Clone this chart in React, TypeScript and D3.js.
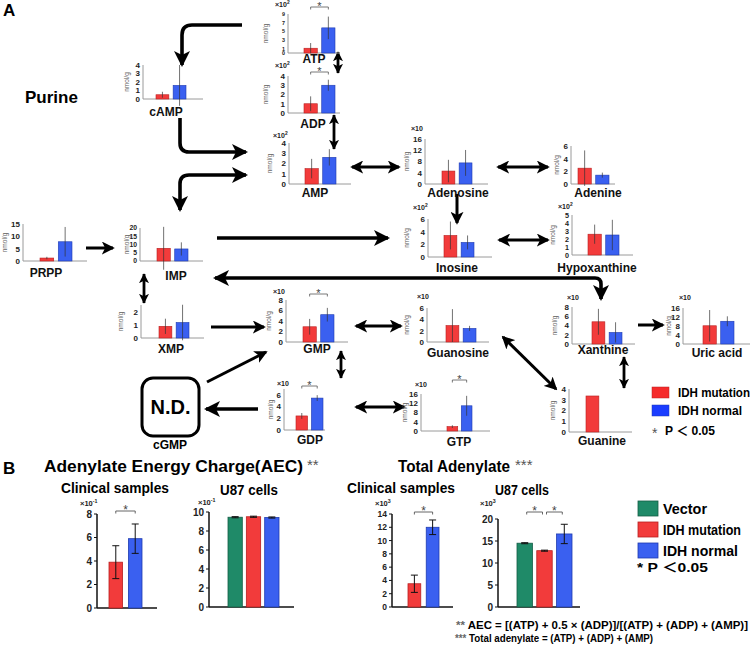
import React from "react";
import * as d3 from "d3";

const FONT = "'Liberation Sans', Arial, Helvetica, 'Noto Sans CJK JP', sans-serif";
const RED = "#f23b3b";
const RED_D = "#b82020";
const BLUE = "#3a60f0";
const BLUE_D = "#1f3bb0";
const GREEN = "#1f8a68";
const GREEN_D = "#145c45";

// ---------------- Panel A data ----------------
const groupsA = ["IDH mutation", "IDH normal"];
const metabolites = ["ATP", "ADP", "cAMP", "AMP", "Adenosine", "Adenine", "PRPP", "IMP", "Inosine", "Hypoxanthine", "XMP", "GMP", "Guanosine", "Xanthine", "Uric acid", "GDP", "GTP", "Guanine"];
const mutationMean = [1.1, 1.0, 0.5, 1.5, 4.6, 2.5, 1.2, 7.7, 3.4, 2.6, 0.92, 2.9, 2.9, 4.8, 8.1, 2.4, 1.9, 3.35];
const mutationErr = [1.2, 0.8, 0.35, 0.95, 4.0, 2.8, 0.5, 13, 2.2, 1.2, 0.6, 1.5, 2.9, 2.8, 7.0, 0.5, 0.6, 0];
const normalMean: (number | null)[] = [5.8, 3.0, 1.6, 2.6, 7.5, 1.4, 7.8, 7.3, 2.3, 2.5, 1.22, 5.2, 2.4, 2.5, 10.1, 5.45, 10.9, null];
const normalErr: (number | null)[] = [2.6, 0.6, 2.4, 0.8, 4.6, 0.4, 6.0, 4.0, 1.1, 1.9, 1.4, 1.3, 0.45, 2.2, 2.2, 0.5, 4.3, null];
const axisMax = [9, 4, 4, 4, 16, 6, 15, 20, 6, 5, 2.6, 8, 6, 8, 16, 7, 16, 4];
const tickValues = [
  [0, 1, 3, 5, 7, 9], [0, 1, 2, 3, 4], [0, 1, 2, 3, 4], [0, 1, 2, 3, 4], [0, 4, 8, 12, 16], [0, 2, 4, 6],
  [0, 5, 10, 15], [0, 5, 10, 15, 20], [0, 2, 4, 6], [0, 1, 2, 3, 4, 5], [0, 1, 2], [0, 2, 4, 6, 8],
  [0, 2, 4, 6], [0, 2, 4, 6, 8], [0, 4, 8, 12, 16], [0, 2, 4, 6], [0, 4, 8, 12, 16], [0, 1, 2, 3, 4],
];
// exponent of the ×10 multiplier ("" = ×10, null = none)
const scaleExp: (string | null)[] = ["2", "2", null, "2", "", null, null, null, "2", "2", null, "", "", "", "", "", "", null];
const significant = [true, true, false, false, false, false, false, false, false, false, false, true, false, false, false, true, true, false];

// layout of each mini chart (positions only)
type LA = { ax: number; by: number; top: number; xEnd: number; b0: number; b1: number; mx: number; my: number; nx: number; cx: number; cy: number; sy?: number; tf?: number };
const layoutA: LA[] = [
  { ax: 288, by: 53, top: 14, xEnd: 340, b0: 304, b1: 335, mx: 275, my: 7, nx: 268, cx: 314, cy: 63, sy: 7, tf: 5.4 },
  { ax: 288, by: 113, top: 76, xEnd: 340, b0: 304, b1: 335, mx: 275, my: 68, nx: 268, cx: 313, cy: 128, sy: 72 },
  { ax: 143, by: 99, top: 65, xEnd: 203, b0: 156, b1: 186, mx: 0, my: 0, nx: 129, cx: 166, cy: 116 },
  { ax: 289, by: 184, top: 143, xEnd: 351, b0: 305, b1: 336, mx: 273, my: 138, nx: 272, cx: 315, cy: 197 },
  { ax: 425, by: 184, top: 139, xEnd: 488, b0: 442, b1: 472, mx: 411, my: 131, nx: 409, cx: 458, cy: 197 },
  { ax: 571, by: 184, top: 146, xEnd: 615, b0: 578, b1: 609, mx: 0, my: 0, nx: 559, cx: 598, cy: 197 },
  { ax: 23, by: 261, top: 224, xEnd: 87, b0: 40, b1: 72, mx: 0, my: 0, nx: 7, cx: 46, cy: 277 },
  { ax: 140, by: 261, top: 228, xEnd: 203, b0: 157, b1: 188, mx: 0, my: 0, nx: 129, cx: 176, cy: 280, tf: 6.8 },
  { ax: 428, by: 257, top: 219, xEnd: 492, b0: 444, b1: 474, mx: 413, my: 210, nx: 409, cx: 457, cy: 272 },
  { ax: 572, by: 255, top: 215, xEnd: 633, b0: 588, b1: 619, mx: 558, my: 209, nx: 555, cx: 597, cy: 272, tf: 7.2 },
  { ax: 141, by: 338, top: 305, xEnd: 204, b0: 159, b1: 189, mx: 0, my: 0, nx: 123, cx: 171, cy: 353 },
  { ax: 286, by: 342, top: 300, xEnd: 348, b0: 303, b1: 334, mx: 273, my: 294, nx: 271, cx: 317, cy: 353, sy: 294 },
  { ax: 427, by: 342, top: 308, xEnd: 489, b0: 446, b1: 476, mx: 417, my: 299, nx: 409, cx: 458, cy: 357 },
  { ax: 572, by: 344, top: 307, xEnd: 635, b0: 592, b1: 622, mx: 567, my: 300, nx: 557, cx: 603, cy: 354 },
  { ax: 683, by: 344, top: 308, xEnd: 750, b0: 703, b1: 734, mx: 679, my: 300, nx: 671, cx: 717, cy: 357 },
  { ax: 284, by: 430, top: 389, xEnd: 325, b0: 296, b1: 323, mx: 277, my: 386, nx: 273, cx: 310, cy: 444, sy: 386 },
  { ax: 421, by: 431, top: 394, xEnd: 490, b0: 447, b1: 472, mx: 415, my: 387, nx: 407, cx: 459, cy: 446, sy: 380 },
  { ax: 569, by: 432, top: 389, xEnd: 632, b0: 586, b1: 616, mx: 0, my: 0, nx: 555, cx: 602, cy: 445 },
];

// ---------------- Panel B data ----------------
const clinicalGroups = ["IDH mutation", "IDH normal"];
const u87Groups = ["Vector", "IDH mutation", "IDH normal"];
const aecClinicalMean = [3.9, 5.9];
const aecClinicalErr = [1.4, 1.25];
const aecU87Mean = [9.45, 9.5, 9.42];
const aecU87Err = [0.06, 0.06, 0.06];
const taClinicalMean = [3.5, 12.0];
const taClinicalErr = [1.3, 1.1];
const taU87Mean = [14.5, 12.8, 16.6];
const taU87Err = [0.12, 0.12, 2.2];
const aecTicks = [0, 2, 4, 6, 8];
const aecU87Ticks = [0, 2, 4, 6, 8, 10];
const taClinicalTicks = [0, 2, 4, 6, 8, 10, 12, 14];
const taU87Ticks = [0, 5, 10, 15, 20];
const legendBWidths = [44, 78, 75];

const groupColor: Record<string, [string, string]> = {
  Vector: [GREEN, GREEN_D],
  "IDH mutation": [RED, RED_D],
  "IDH normal": [BLUE, BLUE_D],
};

function Mult({ x, y, exp, size = 7 }: { x: number; y: number; exp: string; size?: number }) {
  return (
    <text x={x} y={y} fontSize={size} fontWeight="bold" fill="#222">
      ×10
      {exp !== "" && (
        <tspan fontSize={size * 0.7} dy={-size * 0.45}>
          {exp}
        </tspan>
      )}
    </text>
  );
}

function Star({ x, y, size = 12 }: { x: number; y: number; size?: number }) {
  return (
    <text x={x} y={y} fontSize={size} textAnchor="middle" fill="#444">
      *
    </text>
  );
}

function MiniA({ i }: { i: number }) {
  const L = layoutA[i];
  const y = d3.scaleLinear().domain([0, axisMax[i]]).range([L.by, L.top]);
  const x = d3.scaleBand<string>().domain(groupsA).range([L.b0, L.b1]).paddingInner(0.25);
  const vals = [mutationMean[i], normalMean[i]];
  const errs = [mutationErr[i], normalErr[i]];
  const exp = scaleExp[i];
  const tf = L.tf ?? 8;
  const c0 = (x(groupsA[0]) as number) + x.bandwidth() / 2;
  const c1 = (x(groupsA[1]) as number) + x.bandwidth() / 2;
  return (
    <g>
      <line x1={L.ax} x2={L.ax} y1={L.by} y2={L.top} stroke="#9a9a9a" strokeWidth={1} />
      <line x1={L.ax} x2={L.xEnd} y1={L.by} y2={L.by} stroke="#9a9a9a" strokeWidth={1} />
      {tickValues[i].map((t) => (
        <text key={t} x={L.ax - 3} y={y(t) + tf * 0.36} fontSize={tf} fontWeight="bold" textAnchor="end" fill="#222">
          {t}
        </text>
      ))}
      <text
        transform={`translate(${L.nx},${(L.by + L.top) / 2}) rotate(-90)`}
        fontSize={6.5}
        textAnchor="middle"
        fill="#666"
      >
        nmol/g
      </text>
      {exp !== null && <Mult x={L.mx} y={L.my} exp={exp} />}
      {groupsA.map((g, k) => {
        const v = vals[k];
        if (v === null || v === undefined) return null;
        const e = errs[k] || 0;
        const [fill, stroke] = groupColor[g];
        const bx = x(g) as number;
        const cx = bx + x.bandwidth() / 2;
        return (
          <g key={g}>
            <rect x={bx} y={y(v)} width={x.bandwidth()} height={L.by - y(v)} fill={fill} stroke={stroke} strokeWidth={0.6} />
            {e > 0 && <line x1={cx} x2={cx} y1={y(v + e)} y2={y(v - e)} stroke="#333" strokeWidth={0.7} />}
          </g>
        );
      })}
      {significant[i] && L.sy !== undefined && (
        <g>
          <path d={`M${c0},${L.sy + 2.5} V${L.sy} H${c1} V${L.sy + 2.5}`} fill="none" stroke="#555" strokeWidth={0.8} />
          <Star x={(c0 + c1) / 2} y={L.sy + 2.5} size={11} />
        </g>
      )}
      <text x={L.cx} y={L.cy} fontSize={12} fontWeight="bold" textAnchor="middle" fill="#111">
        {metabolites[i]}
      </text>
    </g>
  );
}

type LB = { ax: number; by: number; top: number; xEnd: number; b0: number; b1: number; max: number; mx: number; my: number; fs: number; sy: number };

function MiniB({
  L, groups, mean, err, ticks, exp, sig,
}: { L: LB; groups: string[]; mean: number[]; err: number[]; ticks: number[]; exp: string; sig: [number, number][] }) {
  const y = d3.scaleLinear().domain([0, L.max]).range([L.by, L.top]);
  const x = d3.scaleBand<string>().domain(groups).range([L.b0, L.b1]).paddingInner(groups.length === 3 ? 0.22 : 0.3);
  const cen = (g: string) => (x(g) as number) + x.bandwidth() / 2;
  return (
    <g>
      <line x1={L.ax} x2={L.ax} y1={L.by} y2={L.top} stroke="#111" strokeWidth={1.5} />
      <line x1={L.ax} x2={L.xEnd} y1={L.by} y2={L.by} stroke="#111" strokeWidth={1.5} />
      {ticks.map((t) => (
        <g key={t}>
          <line x1={L.ax - 3} x2={L.ax} y1={y(t)} y2={y(t)} stroke="#111" strokeWidth={1} />
          <text x={L.ax - 5} y={y(t) + L.fs * 0.35} fontSize={L.fs} fontWeight="bold" textAnchor="end" fill="#222">
            {t}
          </text>
        </g>
      ))}
      <Mult x={L.mx} y={L.my} exp={exp} size={7.5} />
      {groups.map((g, k) => {
        const [fill, stroke] = groupColor[g];
        const v = mean[k];
        const e = err[k];
        const bx = x(g) as number;
        const cx = cen(g);
        return (
          <g key={g}>
            <rect x={bx} y={y(v)} width={x.bandwidth()} height={L.by - y(v)} fill={fill} stroke={stroke} strokeWidth={0.8} />
            <line x1={cx} x2={cx} y1={y(v + e)} y2={y(v - e)} stroke="#111" strokeWidth={1} />
            <line x1={cx - 3.5} x2={cx + 3.5} y1={y(v + e)} y2={y(v + e)} stroke="#111" strokeWidth={1} />
            <line x1={cx - 3.5} x2={cx + 3.5} y1={y(v - e)} y2={y(v - e)} stroke="#111" strokeWidth={1} />
          </g>
        );
      })}
      {sig.map(([a, b]) => {
        const x0 = cen(groups[a]) + (groups.length === 3 ? 2 : 0);
        const x1 = cen(groups[b]) - (groups.length === 3 ? 2 : 0);
        return (
          <g key={`${a}-${b}`}>
            <path d={`M${x0},${L.sy + 2.5} V${L.sy} H${x1} V${L.sy + 2.5}`} fill="none" stroke="#555" strokeWidth={0.9} />
            <Star x={(x0 + x1) / 2} y={L.sy + 3} size={12} />
          </g>
        );
      })}
    </g>
  );
}

const bAecClinical: LB = { ax: 97, by: 608, top: 514, xEnd: 157, b0: 109, b1: 142, max: 8, mx: 80, my: 506, fs: 10, sy: 511 };
const bAecU87: LB = { ax: 209, by: 607, top: 512, xEnd: 294, b0: 228, b1: 279, max: 10, mx: 198, my: 505, fs: 10, sy: 0 };
const bTaClinical: LB = { ax: 392, by: 607, top: 514, xEnd: 453, b0: 408, b1: 439, max: 14, mx: 375, my: 506, fs: 8.5, sy: 512 };
const bTaU87: LB = { ax: 498, by: 607, top: 519, xEnd: 580, b0: 517, b1: 572, max: 20, mx: 480, my: 506, fs: 10, sy: 512 };

// arrows (annotation paths)
const arrowsBig = [
  { d: "M242,25 H192 Q182,25 182,35 V65", s: false },
  { d: "M180,118 V143 Q180,152 189,152 H246", s: false },
  { d: "M246,175 H189 Q180,175 180,184 V210", s: true },
  { d: "M217,238 H388", s: false },
  { d: "M215,278 H595 Q601,278 601,284 V299", s: true },
  { d: "M258,409 H206", s: false },
];
const arrowsMed = [
  { d: "M352,167 H399", s: true },
  { d: "M498,167 H548", s: true },
  { d: "M457,194 V223", s: false },
  { d: "M499,240 H548", s: true },
  { d: "M86,248 H113", s: false },
  { d: "M211,327 H264", s: false },
  { d: "M207,382 L266,352", s: false },
  { d: "M356,326 H401", s: true },
  { d: "M356,407 H404", s: true },
  { d: "M503,337 L556,389", s: true },
  { d: "M638,325 H663", s: false },
];
const arrowsSmall = [
  { d: "M338,52 V73", s: true },
  { d: "M334,115 V149", s: true },
  { d: "M144,274 V303", s: true },
  { d: "M341,351 V378", s: true },
  { d: "M624,357 V388", s: true },
];

export default function App() {
  return (
    <svg
      width={756}
      height={646}
      viewBox="0 0 756 646"
      style={{ position: "absolute", left: 0, top: 0, background: "#fff" }}
      fontFamily={FONT}
    >
      <defs>
        <marker id="mBig" viewBox="0 0 16 16" refX={14} refY={8} markerWidth={16} markerHeight={16} markerUnits="userSpaceOnUse" orient="auto-start-reverse">
          <path d="M0,0 L16,8 L0,16 L4,8 Z" fill="#000" />
        </marker>
        <marker id="mMed" viewBox="0 0 14 14" refX={12} refY={7} markerWidth={13} markerHeight={13} markerUnits="userSpaceOnUse" orient="auto-start-reverse">
          <path d="M0,0 L14,7 L0,14 L3.5,7 Z" fill="#000" />
        </marker>
        <marker id="mSmall" viewBox="0 0 12 12" refX={11} refY={6} markerWidth={10} markerHeight={11} markerUnits="userSpaceOnUse" orient="auto-start-reverse">
          <path d="M0,0 L12,6 L0,12 L3,6 Z" fill="#000" />
        </marker>
      </defs>
      <rect width={756} height={646} fill="#fff" />

      {/* Panel A */}
      <text x={3} y={16} fontSize={17} fontWeight="bold">A</text>
      <text x={25} y={103} fontSize={17} fontWeight="bold">Purine</text>

      {arrowsBig.map((a, k) => (
        <path key={`b${k}`} d={a.d} fill="none" stroke="#000" strokeWidth={3.6} markerEnd="url(#mBig)" markerStart={a.s ? "url(#mBig)" : undefined} />
      ))}
      {arrowsMed.map((a, k) => (
        <path key={`m${k}`} d={a.d} fill="none" stroke="#000" strokeWidth={3} markerEnd="url(#mMed)" markerStart={a.s ? "url(#mMed)" : undefined} />
      ))}
      {arrowsSmall.map((a, k) => (
        <path key={`s${k}`} d={a.d} fill="none" stroke="#000" strokeWidth={2.8} markerEnd="url(#mSmall)" markerStart={a.s ? "url(#mSmall)" : undefined} />
      ))}

      {metabolites.map((_, i) => (
        <MiniA key={i} i={i} />
      ))}

      <rect x={142} y={378} width={57} height={58} rx={11} fill="#fff" stroke="#000" strokeWidth={3} />
      <text x={170.5} y={414} fontSize={20} fontWeight="bold" textAnchor="middle">N.D.</text>
      <text x={170} y={449} fontSize={12} fontWeight="bold" textAnchor="middle">cGMP</text>

      {/* legend A */}
      <rect x={652} y={387} width={17} height={11} fill="#f52a2a" stroke={RED_D} strokeWidth={0.5} />
      <text x={678} y={397} fontSize={12.5} fontWeight="bold" textLength={72} lengthAdjust="spacingAndGlyphs">IDH mutation</text>
      <rect x={652} y={405} width={17} height={11} fill="#1a3cff" stroke={BLUE_D} strokeWidth={0.5} />
      <text x={678} y={415} fontSize={12.5} fontWeight="bold" textLength={64} lengthAdjust="spacingAndGlyphs">IDH normal</text>
      <text x={652} y={438} fontSize={14} fill="#555">*</text>
      <text x={665} y={435} fontSize={13} fontWeight="bold" textLength={50} lengthAdjust="spacingAndGlyphs">P ＜ 0.05</text>

      {/* Panel B */}
      <text x={3} y={474} fontSize={17} fontWeight="bold">B</text>
      <text x={44} y={472} fontSize={17} fontWeight="bold" textLength={259} lengthAdjust="spacingAndGlyphs">Adenylate Energy Charge(AEC)</text>
      <text x={307} y={470} fontSize={15} fill="#555">**</text>
      <text x={398} y={472} fontSize={16} fontWeight="bold" textLength={112} lengthAdjust="spacingAndGlyphs">Total Adenylate</text>
      <text x={515} y={470} fontSize={15} fill="#555">***</text>

      <text x={61} y={493} fontSize={15} fontWeight="bold" textLength={108} lengthAdjust="spacingAndGlyphs">Clinical samples</text>
      <text x={220} y={495} fontSize={15} fontWeight="bold" textLength={58} lengthAdjust="spacingAndGlyphs">U87 cells</text>
      <text x={347} y={493} fontSize={15} fontWeight="bold" textLength={108} lengthAdjust="spacingAndGlyphs">Clinical samples</text>
      <text x={495} y={495} fontSize={15} fontWeight="bold" textLength={54} lengthAdjust="spacingAndGlyphs">U87 cells</text>

      <MiniB L={bAecClinical} groups={clinicalGroups} mean={aecClinicalMean} err={aecClinicalErr} ticks={aecTicks} exp="-1" sig={[[0, 1]]} />
      <MiniB L={bAecU87} groups={u87Groups} mean={aecU87Mean} err={aecU87Err} ticks={aecU87Ticks} exp="-1" sig={[]} />
      <MiniB L={bTaClinical} groups={clinicalGroups} mean={taClinicalMean} err={taClinicalErr} ticks={taClinicalTicks} exp="3" sig={[[0, 1]]} />
      <MiniB L={bTaU87} groups={u87Groups} mean={taU87Mean} err={taU87Err} ticks={taU87Ticks} exp="3" sig={[[0, 1], [1, 2]]} />

      {/* legend B */}
      {u87Groups.map((g, k) => (
        <g key={g}>
          <rect x={638} y={501 + k * 21} width={20} height={15} fill={groupColor[g][0]} stroke={groupColor[g][1]} strokeWidth={0.8} />
          <text x={663} y={514 + k * 21} fontSize={14.5} fontWeight="bold" textLength={legendBWidths[k]} lengthAdjust="spacingAndGlyphs">{g}</text>
        </g>
      ))}
      <text x={637} y={572} fontSize={13.5} fontWeight="bold" textLength={71} lengthAdjust="spacingAndGlyphs">* P ＜0.05</text>

      <text x={456} y={629} fontSize={10.5} fontWeight="bold" textLength={292} lengthAdjust="spacingAndGlyphs">
        <tspan fill="#666">**</tspan> AEC = [(ATP) + 0.5 × (ADP)]/[(ATP) + (ADP) + (AMP)]
      </text>
      <text x={455} y={642} fontSize={10.5} fontWeight="bold" textLength={198} lengthAdjust="spacingAndGlyphs">
        <tspan fill="#666">***</tspan> Total adenylate = (ATP) + (ADP) + (AMP)
      </text>
    </svg>
  );
}
